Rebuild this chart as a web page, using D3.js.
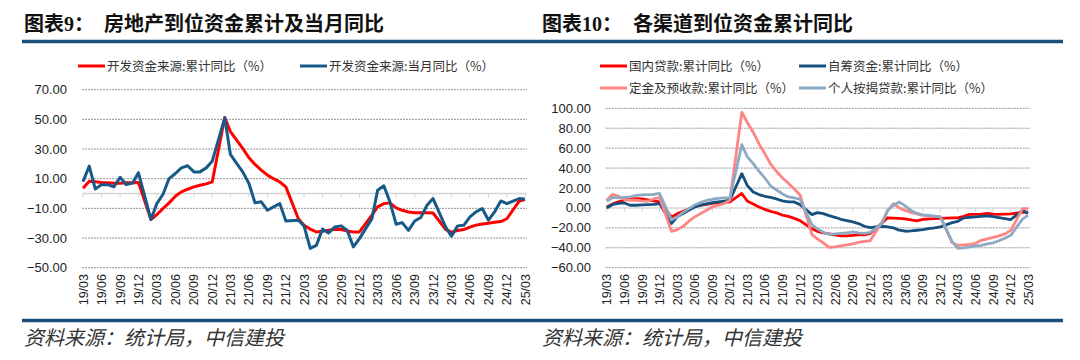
<!DOCTYPE html>
<html>
<head>
<meta charset="utf-8">
<script src="https://cdn.jsdelivr.net/npm/d3@7"></script>
<style>
  body { margin: 0; background: #fff; }
  svg { display: block; }
</style>
</head>
<body>
<svg id="chart" width="1080" height="360"></svg>
<script>
// months with data (Jan is merged into Feb in the stats, so no Jan points)
const months = [
  '2019-03','2019-04','2019-05','2019-06','2019-07','2019-08','2019-09','2019-10','2019-11','2019-12',
  '2020-02','2020-03','2020-04','2020-05','2020-06','2020-07','2020-08','2020-09','2020-10','2020-11','2020-12',
  '2021-02','2021-03','2021-04','2021-05','2021-06','2021-07','2021-08','2021-09','2021-10','2021-11','2021-12',
  '2022-02','2022-03','2022-04','2022-05','2022-06','2022-07','2022-08','2022-09','2022-10','2022-11','2022-12',
  '2023-02','2023-03','2023-04','2023-05','2023-06','2023-07','2023-08','2023-09','2023-10','2023-11','2023-12',
  '2024-02','2024-03','2024-04','2024-05','2024-06','2024-07','2024-08','2024-09','2024-10','2024-11','2024-12',
  '2025-02','2025-03'
];

const tickLabels = [
  '19/03','19/06','19/09','19/12','20/03','20/06','20/09','20/12','21/03','21/06','21/09','21/12',
  '22/03','22/06','22/09','22/12','23/03','23/06','23/09','23/12','24/03','24/06','24/09','24/12','25/03'
];

// chart 9
const devCumulative = [
  3.5, 8.3, 7.9, 7.4, 7.2, 7.0, 7.0, 7.2, 7.2, 7.4,
  -17.5, -14.2, -10.1, -6.3, -1.8, 1.1, 2.9, 4.5, 5.6, 6.5, 7.9,
  51.2, 41.7, 36.0, 30.4, 24.1, 19.6, 15.8, 12.4, 10.0, 7.8, 4.5,
  -17.0, -21.4, -24.0, -25.9, -25.5, -24.8, -24.1, -24.3, -25.2, -25.9, -25.9,
  -14.6, -9.0, -6.8, -6.3, -9.7, -11.3, -12.4, -13.0, -13.0, -13.0, -13.1,
  -24.1, -26.0, -24.9, -24.3, -22.6, -21.3, -20.5, -20.0, -19.4, -18.9, -17.0,
  -5.0, -4.0
];
const devMonthly = [
  8, 18.5, 3, 6, 6, 4.5, 11, 6, 7, 14,
  -17.5, -6.8, -0.5, 10.1, 13.5, 17.3, 18.7, 14.6, 14.6, 17.3, 21.8,
  51, 26.4, 20.3, 14.6, 6.8, -6.3, -5.6, -11.3, -9.0, -6.8, -18.5,
  -18, -21.8, -37, -35, -24, -26.6, -22.5, -21.8, -24.8, -36, -30.4,
  -16.9, 2.2, 5.2, -5.6, -20.7, -19.6, -24.8, -18.5, -16.2, -7.9, -3.4,
  -22.5, -28.8, -21.8, -21.4, -15.8, -12.4, -10.1, -18, -12.4, -5, -6.8,
  -3.4, -3.8
];

// chart 10
const domesticLoans = [
  1, 4, 6, 8, 8.7, 9.4, 9, 8, 7, 6,
  -9, -6, -3.5, -1, 1.3, 2.6, 3.5, 4.6, 5.4, 5.5, 6,
  14.5, 7, 4, 1, -1.5, -3.5, -5, -7.3, -8.5, -10.5, -12.7,
  -21, -23.5, -25, -26, -27, -28, -28, -27.5, -27, -27, -25.5,
  -15, -10, -10.3, -10.5, -11, -12, -13, -11.5, -11, -10.8, -10.5,
  -10, -10, -8.5, -6.5, -6.5, -6.2, -5.5, -6.2, -6.5, -6.2, -6,
  -4.5, -4.2
];
const selfRaised = [
  0, 3.5, 4.5, 5, 2.7, 2.7, 3, 3.3, 3.5, 4.3,
  -15.7, -9, -5.7, -2.3, 1, 2.7, 4, 5.4, 6, 6.7, 7.7,
  34.4, 22.7, 16, 13.4, 11.7, 10.5, 9, 7, 6, 6, 3.3,
  -6.7, -4.7, -5.7, -7.7, -9.4, -11.4, -12.7, -14, -15.7, -18.4, -19.7,
  -18.4, -19, -20, -22.4, -23.4, -23, -22.4, -21.7, -20.7, -20, -19,
  -14.7, -13.4, -10, -9.4, -9, -8.4, -8, -8.7, -9.7, -10.7, -11.7,
  -2.3, -5.7
];
const deposits = [
  7.7, 13.7, 11.7, 8.4, 7.7, 7.7, 7, 6.7, 9, 10.5,
  -23.5, -22, -18.5, -13.5, -9, -5.7, -2.3, 1, 2.7, 4.3, 7.7,
  96, 86, 76, 64.5, 54.5, 44, 36.5, 30, 24.7, 19, 13,
  -26.8, -31, -35, -39.5, -39, -38, -37, -36, -34.5, -33.5, -33,
  -14, -3.3, 4.3, 0, -2.5, -4.5, -6, -7.4, -8, -8.3, -9,
  -35, -37.5, -37, -36.5, -35.5, -32.5, -31, -29.5, -28, -26, -22.5,
  -0.7, -0.7
];
const mortgages = [
  6.7, 10.5, 10, 10.5, 11, 12.5, 13, 13.4, 13.5, 14.5,
  -12, -9, -4.5, -1, 3, 5.5, 7.5, 8.7, 9.5, 10, 10,
  63.5, 51.5, 44.5, 37, 30, 22, 18, 14, 11, 10, 8.7,
  -17, -21, -24.5, -26.5, -26, -25.5, -25, -24, -25, -25.5, -24.5,
  -15.7, -2.5, 2.7, 6, 2, -2.5, -5.5, -7, -7.5, -8.3, -9,
  -34, -40.5, -40, -39, -38, -37.5, -36, -35, -33, -30.5, -27.5,
  -11, -7.5
];

const parseMonth = d3.timeParse('%Y-%m');
const parseTick = d3.timeParse('%y/%m');
const dates = months.map(parseMonth);

const svg = d3.select('#chart');
const CJK = "'Noto Sans CJK SC', sans-serif";

function header(x0, x1, tag, title) {
  svg.append('text')
    .attr('x', x0 + 2).attr('y', 31)
    .style('font-family', "'Liberation Serif', 'Noto Sans CJK SC', serif")
    .style('font-weight', 'bold').style('font-size', '20px').style('fill', '#111')
    .text(tag);
  svg.append('text')
    .attr('x', x0 + (tag.length > 4 ? 93 : 82)).attr('y', 31)
    .style('font-family', CJK)
    .style('font-weight', 'bold').style('font-size', '20px').style('fill', '#111')
    .text(title);
  svg.append('line')
    .attr('x1', x0).attr('x2', x1).attr('y1', 41.5).attr('y2', 41.5)
    .attr('stroke', '#1b4f7c').attr('stroke-width', 3.5);
  // footer
  svg.append('line')
    .attr('x1', x0).attr('x2', x1).attr('y1', 320.5).attr('y2', 320.5)
    .attr('stroke', '#1b4f7c').attr('stroke-width', 3.5);
  svg.append('text')
    .attr('x', x0 + 2).attr('y', 345)
    .style('font-family', CJK).style('font-style', 'italic')
    .style('font-size', '20px').style('fill', '#333')
    .text('资料来源：统计局，中信建投');
}

function legend(items) {
  items.forEach(it => {
    svg.append('line')
      .attr('x1', it.x).attr('x2', it.x + 27).attr('y1', it.y).attr('y2', it.y)
      .attr('stroke', it.color).attr('stroke-width', 3);
    svg.append('text')
      .attr('x', it.x + 29).attr('y', it.y + 4.5)
      .style('font-family', CJK).style('font-size', '12.5px').style('fill', '#333')
      .text(it.label);
  });
}

function drawChart(cfg) {
  const x = d3.scaleTime()
    .domain([parseMonth('2019-03'), parseMonth('2025-03')])
    .range(cfg.xRange);
  const y = d3.scaleLinear().domain(cfg.yDomain).range(cfg.yRange);
  const g = svg.append('g');

  // grid + y labels
  g.selectAll('.grid')
    .data(cfg.yTicks.filter(v => v !== 0))
    .join('line')
    .attr('x1', cfg.xRange[0] - 1).attr('x2', cfg.xRange[1] + 2)
    .attr('y1', d => y(d)).attr('y2', d => y(d))
    .attr('stroke', '#8a8a8a').attr('stroke-width', 0.9)
    .attr('stroke-dasharray', '2,1');

  g.selectAll('.ylab')
    .data(cfg.yTicks)
    .join('text')
    .attr('x', cfg.labelX).attr('y', d => y(d) + 4.5)
    .attr('text-anchor', 'end')
    .style('font-family', "'Liberation Sans', Arial, sans-serif")
    .style('font-size', '13px').style('fill', '#222')
    .text(d3.format('.2f'));

  // zero axis with ticks
  g.append('line')
    .attr('x1', cfg.xRange[0] - 1).attr('x2', cfg.xRange[1] + 2)
    .attr('y1', y(0)).attr('y2', y(0))
    .attr('stroke', '#d6d6d6').attr('stroke-width', 1.5);
  const tickDates = tickLabels.map(parseTick);
  g.selectAll('.xtick')
    .data(tickDates)
    .join('line')
    .attr('x1', d => x(d)).attr('x2', d => x(d))
    .attr('y1', y(0)).attr('y2', y(0) + 4)
    .attr('stroke', '#d6d6d6').attr('stroke-width', 1);

  // x labels, rotated
  g.selectAll('.xlab')
    .data(tickLabels)
    .join('text')
    .attr('transform', d => `translate(${x(parseTick(d)) + 4.5},274) rotate(-90)`)
    .attr('text-anchor', 'end')
    .style('font-family', "'Liberation Sans', Arial, sans-serif")
    .style('font-size', '12.5px').style('fill', '#222')
    .text(d => d);

  const line = d3.line()
    .x((d, i) => x(dates[i]))
    .y(d => y(d));

  cfg.series.forEach(s => {
    g.append('path')
      .datum(s.values)
      .attr('d', line)
      .attr('fill', 'none')
      .attr('stroke', s.color)
      .attr('stroke-width', s.width || 2.8)
      .attr('stroke-linejoin', 'round');
  });
}

// left: chart 9
header(22, 540, '图表9：', '房地产到位资金累计及当月同比');
legend([
  { x: 78, y: 66, color: '#ff0000', label: '开发资金来源:累计同比（%）' },
  { x: 300, y: 66, color: '#175a87', label: '开发资金来源:当月同比（%）' },
]);
drawChart({
  xRange: [83, 525],
  yDomain: [-50, 70],
  yRange: [267.7, 89.7],
  yTicks: [-50, -30, -10, 10, 30, 50, 70],
  labelX: 67,
  series: [
    { values: devCumulative, color: '#ff0000', width: 3 },
    { values: devMonthly, color: '#175a87', width: 3 },
  ],
});

// right: chart 10
header(540, 1063, '图表10：', '各渠道到位资金累计同比');
legend([
  { x: 600, y: 66, color: '#ff0000', label: '国内贷款:累计同比（%）' },
  { x: 799, y: 66, color: '#15507f', label: '自筹资金:累计同比（%）' },
  { x: 600, y: 88, color: '#ff8585', label: '定金及预收款:累计同比（%）' },
  { x: 799, y: 88, color: '#8eaac3', label: '个人按揭贷款:累计同比（%）' },
]);
drawChart({
  xRange: [606.7, 1028],
  yDomain: [-60, 100],
  yRange: [267.7, 108.3],
  yTicks: [-60, -40, -20, 0, 20, 40, 60, 80, 100],
  labelX: 591,
  series: [
    { values: domesticLoans, color: '#ff0000', width: 2.8 },
    { values: selfRaised, color: '#15507f', width: 2.8 },
    { values: deposits, color: '#ff8585', width: 2.8 },
    { values: mortgages, color: '#8eaac3', width: 2.8 },
  ],
});
</script>
</body>
</html>
